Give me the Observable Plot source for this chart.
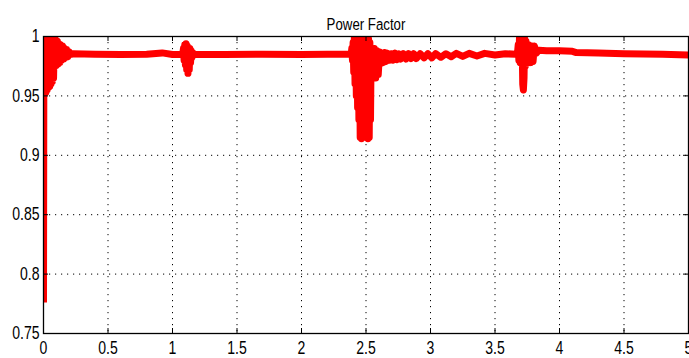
<!DOCTYPE html>
<html><head><meta charset="utf-8">
<script src="https://cdn.jsdelivr.net/npm/d3@7"></script>
<script src="https://cdn.jsdelivr.net/npm/@observablehq/plot@0.6"></script>
<style>
html,body{margin:0;padding:0;background:#fff;}
svg{display:block}
</style></head><body><div id="chart"></div>
<script>
const title = "Power Factor";
const time = [
  0, 0.003, 0.008, 0.013, 0.018, 0.023, 0.028, 0.033, 0.038, 0.043, 0.048, 0.053, 0.058, 0.063, 0.068, 0.073, 0.078,
  0.084, 0.090, 0.096, 0.102, 0.108, 0.114, 0.120, 0.126, 0.132, 0.140, 0.148, 0.156, 0.164, 0.172, 0.180, 0.190, 0.200, 0.215, 0.230,
  0.40, 0.60, 0.80, 0.92, 1.00, 1.07,
  1.08, 1.085, 1.09, 1.095, 1.10, 1.105, 1.11, 1.115, 1.12, 1.125, 1.13, 1.135, 1.14, 1.145, 1.15, 1.16, 1.17,
  1.40, 1.70, 2.00, 2.20, 2.385,
  2.39, 2.395, 2.40, 2.405, 2.41, 2.415, 2.42, 2.425, 2.43, 2.435, 2.44, 2.445, 2.45, 2.455, 2.46, 2.465, 2.47, 2.475,
  2.48, 2.485, 2.49, 2.495, 2.50, 2.505, 2.51, 2.515, 2.52, 2.525, 2.53, 2.535, 2.54, 2.545, 2.55, 2.555, 2.565, 2.575,
  2.585, 2.595, 2.605, 2.615, 2.625, 2.635, 2.645, 2.655, 2.665, 2.68, 2.695, 2.71, 2.725, 2.74, 2.755, 2.77, 2.79, 2.81,
  2.83, 2.85, 2.87, 2.89, 2.92, 2.95, 2.98, 3.01, 3.04, 3.08, 3.12, 3.16, 3.20, 3.25, 3.30, 3.36, 3.42, 3.50, 3.58, 3.66,
  3.675, 3.68, 3.685, 3.69, 3.695, 3.70, 3.705, 3.71, 3.715, 3.72, 3.725, 3.73, 3.735, 3.74, 3.75, 3.76, 3.775, 3.785,
  3.795, 3.805, 3.82, 3.84, 3.90, 4.00, 4.10, 4.13, 4.30, 4.50, 4.80, 5.00
];
const powerFactor = [
  0.776, 1.0, 0.955, 1.0, 0.953, 1.0, 0.955, 1.0, 0.957, 1.0, 0.958, 1.0, 0.960, 1.0, 0.962, 0.999, 0.965,
  0.998, 0.975, 0.997, 0.976, 0.996, 0.977, 0.994, 0.978, 0.993, 0.980, 0.992, 0.981, 0.990, 0.982, 0.989, 0.983, 0.987, 0.985, 0.9855,
  0.985, 0.9848, 0.985, 0.9862, 0.9848, 0.985,
  0.986, 0.990, 0.980, 0.993, 0.976, 0.994, 0.972, 0.992, 0.969, 0.990, 0.972, 0.990, 0.978, 0.988, 0.982, 0.986, 0.985,
  0.9848, 0.985, 0.9848, 0.985, 0.985,
  0.990, 0.980, 0.995, 0.970, 1.0, 0.960, 1.0, 0.950, 1.0, 0.940, 1.0, 0.930, 1.0, 0.915, 1.0, 0.914, 1.0, 0.916,
  1.0, 0.927, 1.0, 0.928, 1.0, 0.920, 1.0, 0.914, 0.998, 0.915, 0.995, 0.930, 0.990, 0.965, 0.990, 0.966, 0.990, 0.965,
  0.988, 0.968, 0.987, 0.977, 0.986, 0.978, 0.9865, 0.979, 0.986, 0.980, 0.9855, 0.980, 0.986, 0.9805, 0.9855, 0.981, 0.9855, 0.981,
  0.9855, 0.9815, 0.9855, 0.9815, 0.9855, 0.982, 0.9855, 0.982, 0.9855, 0.9825, 0.9855, 0.983, 0.9858, 0.9832, 0.9858, 0.9836, 0.9858, 0.9845, 0.9855, 0.985,
  0.987, 0.993, 0.980, 1.0, 0.978, 1.0, 0.980, 0.998, 0.960, 0.955, 0.965, 0.998, 0.975, 0.996, 0.980, 0.993, 0.978, 0.992,
  0.979, 0.992, 0.986, 0.9885, 0.988, 0.988, 0.9875, 0.9865, 0.9862, 0.9855, 0.985, 0.9845
];
const xTicks = [0, 0.5, 1, 1.5, 2, 2.5, 3, 3.5, 4, 4.5, 5];
const xTickLabels = ["0", "0.5", "1", "1.5", "2", "2.5", "3", "3.5", "4", "4.5", "5"];
const yTicks = [0.75, 0.8, 0.85, 0.9, 0.95, 1];
const yTickLabels = ["0.75", "0.8", "0.85", "0.9", "0.95", "1"];

const data = time.map((t, i) => ({t, v: powerFactor[i]}));
const W = 689, H = 358, mt = 36, mb = 25, ml = 43, mr = 1;
const frameH = H - mt - mb, frameW = W - ml - mr;
const font = "'Liberation Sans', Arial, sans-serif";
const dotted = {stroke: "#000", strokeOpacity: 1, strokeWidth: 1, strokeDasharray: "1.2,4.8"};

const chart = Plot.plot({
  width: W, height: H, marginTop: mt, marginBottom: mb, marginLeft: ml, marginRight: mr,
  style: {fontFamily: font, fontSize: "18px", color: "#000", background: "#fff"},
  x: {domain: [0, 5]},
  y: {domain: [0.75, 1]},
  marks: [
    Plot.gridX(xTicks.slice(1, -1), dotted),
    Plot.gridY(yTicks.slice(1, -1), dotted),
    Plot.line(data, {x: "t", y: "v", stroke: "#ff0000", strokeWidth: 7, strokeLinejoin: "round", strokeLinecap: "butt", clip: true}),
    Plot.ruleX(xTicks, {x: d => d, insetTop: frameH - 5, stroke: "#000"}),
    Plot.ruleX(xTicks, {x: d => d, insetBottom: frameH - 5, stroke: "#000"}),
    Plot.ruleY(yTicks, {y: d => d, insetRight: frameW - 5, stroke: "#000"}),
    Plot.ruleY(yTicks, {y: d => d, insetLeft: frameW - 5, stroke: "#000"}),
    Plot.frame({stroke: "#000", strokeWidth: 1.3}),
    Plot.axisX({ticks: xTicks, tickSize: 0, tickPadding: 8, tickFormat: d => xTickLabels[xTicks.indexOf(d)], label: null}),
    Plot.axisY({ticks: yTicks, tickSize: 0, tickPadding: 4, tickFormat: d => yTickLabels[yTicks.indexOf(d)], label: null}),
    Plot.text([title], {text: d => d, frameAnchor: "top", dy: -19, fontSize: 17})
  ]
});
// condense glyphs horizontally (narrow MATLAB-like font)
const sx = 0.78;
chart.querySelectorAll("text").forEach(t => {
  const x = +(t.getAttribute("x") || 0);
  const tr = t.getAttribute("transform") || "";
  t.setAttribute("transform", `${tr} translate(${x},0) scale(${sx},1) translate(${-x},0)`);
});
document.getElementById("chart").appendChild(chart);
</script>
</body></html>
